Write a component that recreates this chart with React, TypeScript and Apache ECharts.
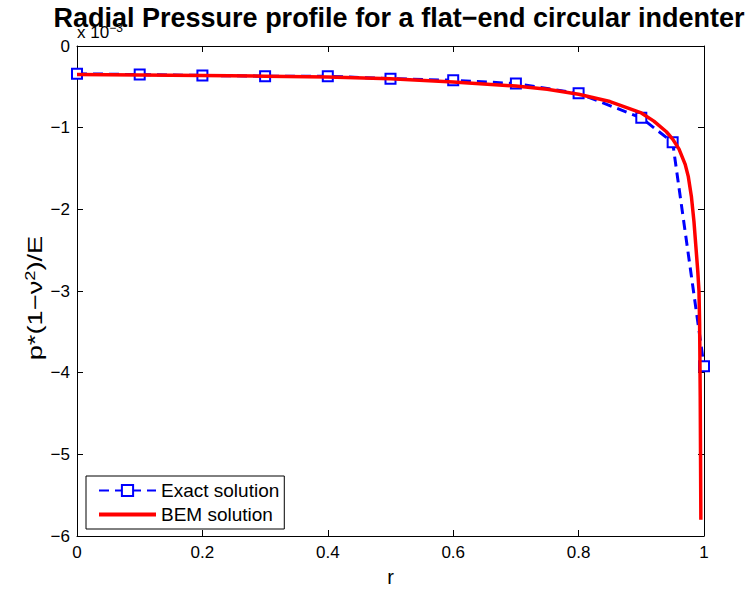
import React, { useEffect, useRef } from "react";
import * as echarts from "echarts";

const titleText = "Radial Pressure profile for a flat\u2212end circular indenter";
const yLabelText = "p*(1\u2212\u03bd{sup|2})/E";
const xTicks = [0, 0.2, 0.4, 0.6, 0.8, 1];
const yTicks = [0, -1, -2, -3, -4, -5, -6];

const exactR = [0, 0.1, 0.2, 0.3, 0.4, 0.5, 0.6, 0.7, 0.8, 0.9, 0.95, 1.0];
const exactP = [-0.34, -0.35, -0.36, -0.37, -0.37, -0.4, -0.42, -0.46, -0.58, -0.88, -1.18, -3.92];

const bemR = [0, 0.1, 0.2, 0.3, 0.4, 0.5, 0.6, 0.7, 0.75, 0.8, 0.85, 0.9, 0.92, 0.94, 0.95, 0.96, 0.97, 0.975, 0.98, 0.984, 0.987, 0.99, 0.992, 0.993, 0.994, 0.995];
const bemP = [-0.35, -0.355, -0.36, -0.37, -0.38, -0.4, -0.44, -0.49, -0.53, -0.59, -0.68, -0.82, -0.92, -1.05, -1.14, -1.26, -1.45, -1.6, -1.85, -2.15, -2.45, -2.75, -3.0, -3.4, -4.3, -5.8];

const seriesNames = ["Exact solution", "BEM solution"];

export default function App() {
  const ref = useRef<HTMLDivElement>(null);
  useEffect(() => {
    const chart = echarts.init(ref.current!, null, { renderer: "svg" });
    const font = "'Liberation Sans', Arial, Helvetica, sans-serif";
    const fmt = (v: number) => {
      const r = Math.round(v * 1000) / 1000;
      return String(r).replace("-", "\u2212");
    };
    const axisCommon = {
      type: "value" as const,
      axisLine: { show: true, onZero: false, lineStyle: { color: "#000", width: 1 } },
      axisTick: { show: true, inside: true, length: 6, lineStyle: { color: "#000", width: 1 } },
      splitLine: { show: false },
    };
    chart.setOption({
      animation: false,
      backgroundColor: "#fff",
      textStyle: { fontFamily: font },
      title: {
        text: titleText,
        left: 394,
        textAlign: "center",
        top: -1,
        z: 10,
        textStyle: { fontFamily: font, fontWeight: "bold", fontSize: 27, color: "#000" },
      },
      grid: { left: 77, right: 41, top: 46, bottom: 54, containLabel: false },
      xAxis: [
        {
          ...axisCommon,
          position: "bottom",
          min: xTicks[0],
          max: xTicks[xTicks.length - 1],
          interval: 0.2,
          axisLabel: { formatter: fmt, fontSize: 17, color: "#000", margin: 8, fontFamily: font },
          name: "r",
          nameLocation: "middle",
          nameGap: 31,
          nameTextStyle: { fontSize: 20, color: "#000", fontFamily: font },
        },
        {
          ...axisCommon,
          position: "top",
          min: xTicks[0],
          max: xTicks[xTicks.length - 1],
          interval: 0.2,
          axisLabel: { show: false },
        },
      ],
      yAxis: [
        {
          ...axisCommon,
          position: "left",
          min: yTicks[yTicks.length - 1],
          max: yTicks[0],
          interval: 1,
          axisLabel: { formatter: fmt, fontSize: 17, color: "#000", margin: 7, fontFamily: font },
        },
        {
          ...axisCommon,
          position: "right",
          min: yTicks[yTicks.length - 1],
          max: yTicks[0],
          interval: 1,
          axisLabel: { show: false },
        },
      ],
      legend: {
        data: [
          { name: seriesNames[0] },
          { name: seriesNames[1], icon: "path://M0,0 L57,0 L57,4 L0,4 Z" },
        ],
        orient: "vertical",
        left: 86,
        top: 476,
        padding: [5, 5, 5, 12],
        itemWidth: 57,
        itemHeight: 14,
        itemGap: 5,
        borderColor: "#000",
        borderWidth: 1,
        backgroundColor: "#fff",
        textStyle: { fontSize: 19, lineHeight: 19, color: "#000", fontFamily: font },
      },
      graphic: [
        {
          type: "text",
          left: 77,
          top: 22,
          z: 0,
          style: {
            text: "x 10{sup|\u22123}",
            fontSize: 17,
            fontFamily: font,
            fill: "#000",
            rich: { sup: { fontSize: 12, fontFamily: font, fill: "#000", verticalAlign: "top", padding: [0, 0, 8, 0] } },
          },
        },
        {
          type: "text",
          x: 35,
          y: 298,
          rotation: Math.PI / 2,
          scaleX: 1.3,
          z: 5,
          style: {
            text: yLabelText,
            fontSize: 21,
            fontFamily: font,
            fill: "#000",
            align: "center",
            verticalAlign: "middle",
            rich: { sup: { fontSize: 14, fontFamily: font, fill: "#000", verticalAlign: "top", padding: [0, 0, 10, 0] } },
          },
        },
      ],
      series: [
        {
          name: seriesNames[0],
          type: "line",
          data: exactR.map((r, i) => [r, exactP[i]]),
          symbol: "emptyRect",
          symbolSize: 10,
          showAllSymbol: true,
          color: "#0000ff",
          lineStyle: { color: "#0000ff", width: 3, type: [10, 6] },
          itemStyle: { color: "#0000ff", borderColor: "#0000ff", borderWidth: 2.5 },
          z: 2,
        },
        {
          name: seriesNames[1],
          type: "line",
          data: bemR.map((r, i) => [r, bemP[i]]),
          symbol: "none",
          color: "#ff0000",
          lineStyle: { color: "#ff0000", width: 3.5 },
          itemStyle: { color: "#ff0000" },
          z: 3,
        },
      ],
    });
    return () => chart.dispose();
  }, []);
  return <div ref={ref} style={{ position: "fixed", left: 0, top: 0, width: 745, height: 592 }} />;
}
